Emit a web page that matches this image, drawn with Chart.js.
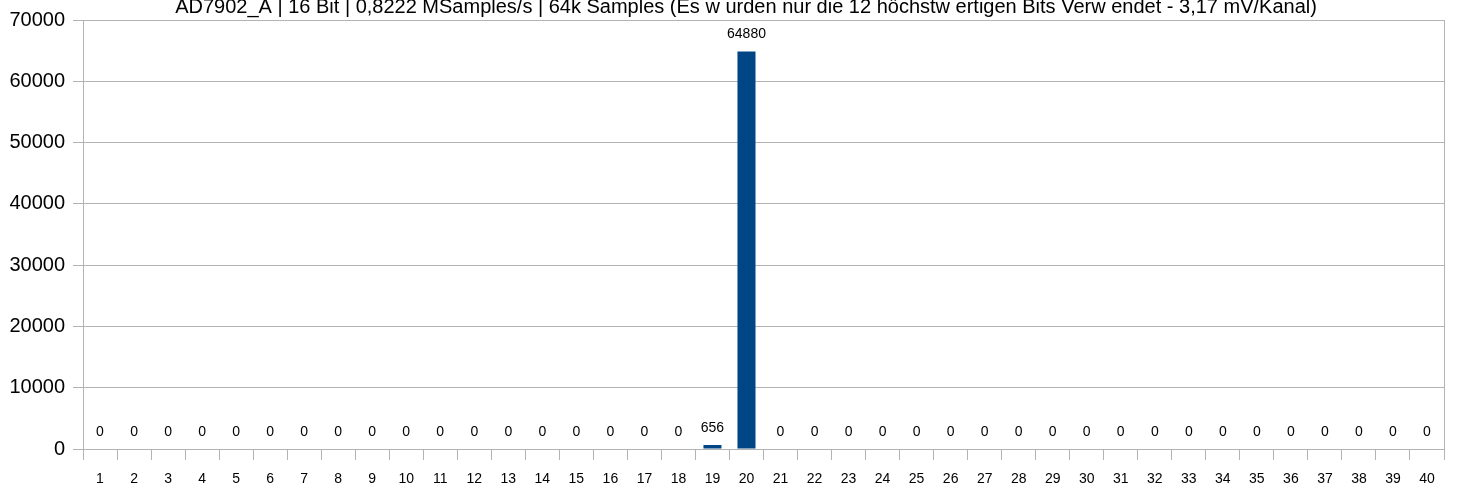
<!DOCTYPE html>
<html>
<head>
<meta charset="utf-8">
<script src="https://cdn.jsdelivr.net/npm/chart.js@4"></script>
<style>
html,body{margin:0;padding:0;background:#fff;}
#wrap{width:1457px;height:492px;position:relative;}
</style>
</head>
<body>
<div id="wrap"><canvas id="c" width="1457" height="492"></canvas></div>
<script>
const categories = ["1","2","3","4","5","6","7","8","9","10","11","12","13","14","15","16","17","18","19","20","21","22","23","24","25","26","27","28","29","30","31","32","33","34","35","36","37","38","39","40"];
const counts = [0,0,0,0,0,0,0,0,0,0,0,0,0,0,0,0,0,0,656,64880,0,0,0,0,0,0,0,0,0,0,0,0,0,0,0,0,0,0,0,0];
const yTicks = [0,10000,20000,30000,40000,50000,60000,70000];
const titleText = "AD7902_A | 16 Bit | 0,8222 MSamples/s | 64k Samples (Es w urden nur die 12 höchstw ertigen Bits Verw endet - 3,17 mV/Kanal)";

const FONT = "'Liberation Sans', Arial, sans-serif";
const GRID = '#b3b3b3';

const titlePlugin = {
  id: 'titleText',
  afterDraw(chart) {
    const ctx = chart.ctx;
    ctx.save();
    ctx.font = '20px ' + FONT;
    ctx.fillStyle = '#000';
    ctx.textAlign = 'center';
    ctx.textBaseline = 'alphabetic';
    ctx.fillText(titleText, 746, 13);
    ctx.restore();
  }
};

const valueLabels = {
  id: 'valueLabels',
  afterDatasetsDraw(chart) {
    const ctx = chart.ctx;
    const meta = chart.getDatasetMeta(0);
    ctx.save();
    ctx.font = '14px ' + FONT;
    ctx.fillStyle = '#000';
    ctx.textAlign = 'center';
    ctx.textBaseline = 'middle';
    meta.data.forEach((bar, i) => {
      ctx.fillText(String(counts[i]), bar.x, bar.y - 17);
    });
    ctx.restore();
  }
};

const rightBorder = {
  id: 'rightBorder',
  beforeDatasetsDraw(chart) {
    const ctx = chart.ctx;
    const a = chart.chartArea;
    ctx.save();
    ctx.strokeStyle = GRID;
    ctx.lineWidth = 1;
    ctx.beginPath();
    ctx.moveTo(Math.round(a.right) + 0.5, a.top);
    ctx.lineTo(Math.round(a.right) + 0.5, a.bottom);
    ctx.stroke();
    ctx.restore();
  }
};

new Chart(document.getElementById('c'), {
  type: 'bar',
  data: {
    labels: categories,
    datasets: [{
      data: counts,
      backgroundColor: '#004586',
      borderWidth: 0,
      categoryPercentage: 1,
      barPercentage: 0.53
    }]
  },
  options: {
    responsive: false,
    animation: false,
    devicePixelRatio: 1,
    layout: { padding: { top: 18, right: 13, left: 0, bottom: 0 } },
    plugins: { legend: { display: false }, tooltip: { enabled: false }, title: { display: false } },
    scales: {
      x: {
        offset: true,
        grid: { offset: true, drawOnChartArea: false, drawTicks: true, tickLength: 11, color: GRID },
        border: { display: true, color: GRID },
        ticks: { color: '#000', font: { family: FONT, size: 14 }, padding: 11, maxRotation: 0, autoSkip: false },
        afterFit(s) { s.height = 43; }
      },
      y: {
        min: 0, max: 70000,
        afterBuildTicks(s) { s.ticks = yTicks.map(v => ({ value: v })); },
        grid: { color: GRID, tickLength: 10 },
        border: { display: true, color: GRID },
        ticks: { color: '#000', font: { family: FONT, size: 20 }, padding: 8, callback: (v) => String(v) },
        afterFit(s) { s.width = 83; }
      }
    }
  },
  plugins: [titlePlugin, valueLabels, rightBorder]
});
</script>
</body>
</html>
